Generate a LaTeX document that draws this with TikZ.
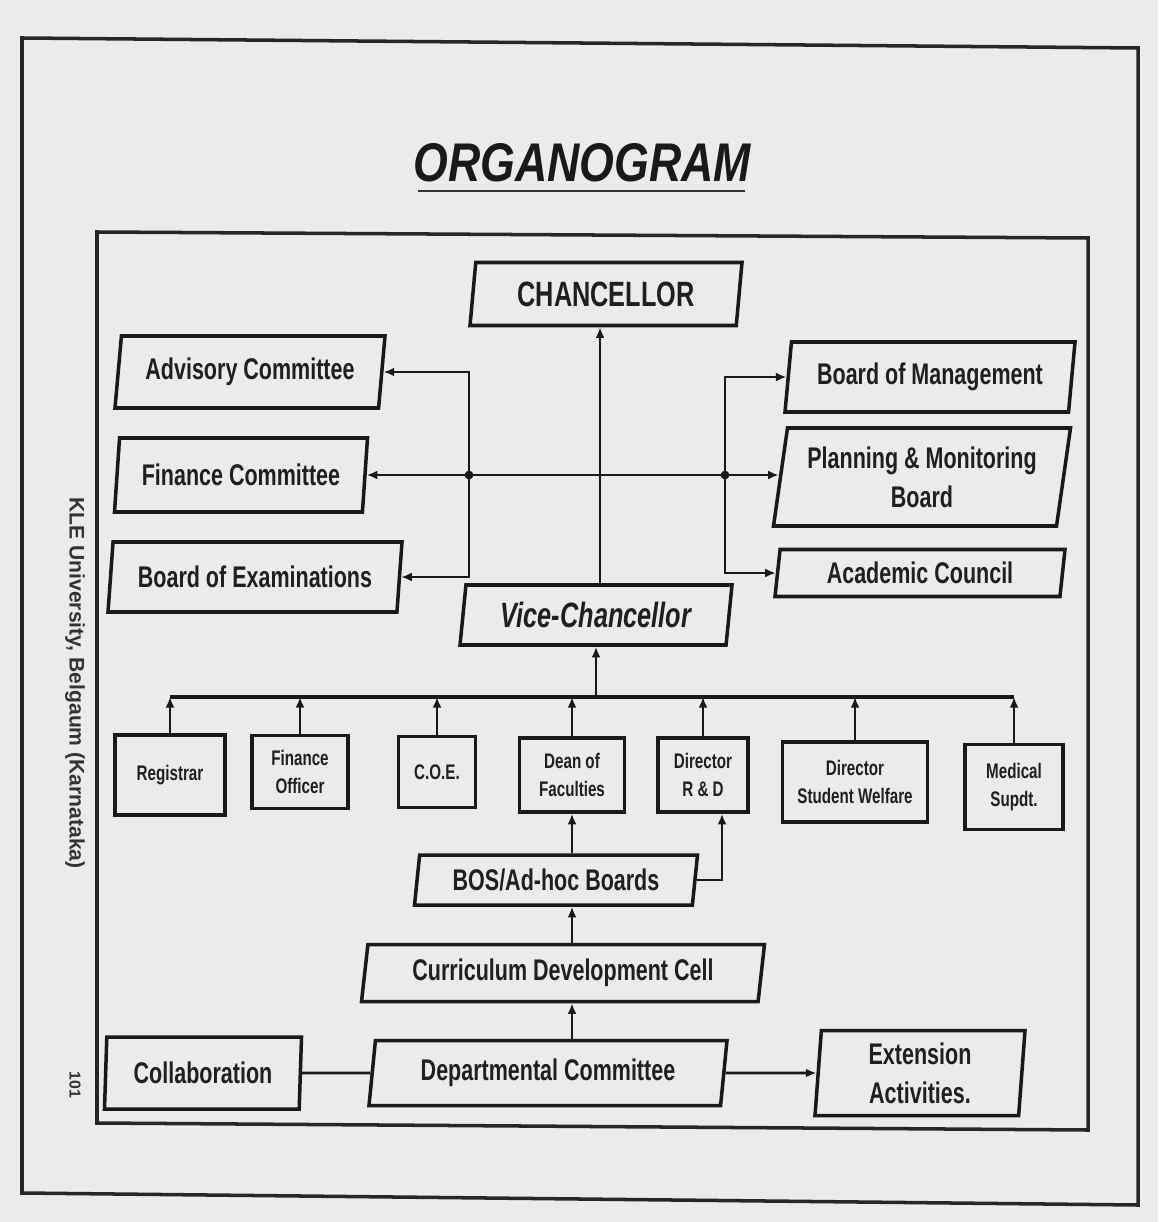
\documentclass[tikz,border=0pt]{standalone}
\usepackage{fontspec}
\setmainfont{Liberation Sans}
\newfontfamily\cf[FakeStretch=0.72]{Liberation Sans}
\newfontfamily\tf[FakeStretch=0.82]{Liberation Sans}
\usetikzlibrary{shapes.geometric,arrows.meta}
\begin{document}
\begin{tikzpicture}[x=0.02cm,y=-0.02cm,
  sz/.style 2 args={minimum width=#1*0.02cm,minimum height=#2*0.02cm},
  box/.style={draw=black!90, line width=2pt, trapezium, trapezium left angle=77,
    trapezium right angle=103, trapezium stretches body, inner sep=0pt, align=center,
    text=black!88, font=\cf\bfseries\fontsize{17}{22}\selectfont},
  sbox/.style={draw=black!90, line width=2pt, rectangle, inner sep=0pt, align=center,
    text=black!88, font=\cf\bfseries\fontsize{12}{16}\selectfont},
  con/.style={line width=1.3pt, draw=black!90},
  tip/.style={con, -{Latex[length=6pt,width=5pt]}},
  tipb/.style={con, {Latex[length=6pt,width=5pt]}-{Latex[length=6pt,width=5pt]}},
  frame/.style={line width=2pt, draw=black!85}
]
\useasboundingbox (0,0) rectangle (1158,1222);
\fill[black!8] (0,0) rectangle (1158,1222);
\draw[frame] (22,38) -- (1138,48) -- (1138,1205) -- (22,1193) -- cycle;
\draw[frame] (97,232) -- (1088,238) -- (1088,1130) -- (97,1123) -- cycle;

\node[font=\tf\bfseries\itshape\fontsize{31}{36}\selectfont, text=black!90] (title) at (582,163) {ORGANOGRAM};
\draw[line width=1pt, black!80] (418,191) -- (745,191);

\node[rotate=-90, text=black!80, font=\bfseries\fontsize{12}{14}\selectfont] (side) at (75,683) {KLE University, Belgaum (Karnataka)};
\node[rotate=-90, text=black!80, font=\bfseries\fontsize{9}{11}\selectfont] (pg) at (75,1085) {101};

% top level
\node[box, sz={272}{63}, font=\cf\bfseries\fontsize{20}{24}\selectfont] (chan) at (606,294) {CHANCELLOR};
\node[box, sz={270}{72}] (adv) at (250,372) {Advisory Committee};
\node[box, sz={253}{74}] (fin) at (241,475) {Finance Committee};
\node[box, sz={294}{70}] (exam) at (255,577) {Board of Examinations};
\node[box, sz={290}{70}] (bom) at (930,377) {Board of Management};
\node[box, sz={297}{98}] (plan) at (922,477) {Planning \& Monitoring\\Board};
\node[box, sz={290}{47}] (acad) at (920,573) {Academic Council};
\node[box, sz={272}{60}, font=\cf\bfseries\itshape\fontsize{20}{24}\selectfont] (vc) at (596,615) {Vice-Chancellor};

% second row
\node[sbox, sz={110}{80}] (reg) at (170,775) {Registrar};
\node[sbox, sz={96}{73}] (fo) at (300,772) {Finance\\Officer};
\node[sbox, sz={77}{71}] (coe) at (437,772) {C.O.E.};
\node[sbox, sz={105}{74}] (dean) at (572,775) {Dean of\\Faculties};
\node[sbox, sz={90}{74}] (rd) at (703,775) {Director\\R \& D};
\node[sbox, sz={145}{80}] (sw) at (855,782) {Director\\Student Welfare};
\node[sbox, sz={98}{85}] (med) at (1014,787) {Medical\\Supdt.};

% lower part
\node[box, sz={283}{50}] (bos) at (556,880) {BOS/Ad-hoc Boards};
\node[box, sz={403}{57}] (cdc) at (563,973) {Curriculum Development Cell};
\node[box, sz={358}{65}] (dept) at (548,1073) {Departmental Committee};
\node[box, trapezium left angle=84, trapezium right angle=96, sz={197}{72}] (collab) at (203,1073) {Collaboration};
\node[box, trapezium left angle=84, trapezium right angle=96, sz={210}{85}] (ext) at (920,1073) {Extension\\Activities.};

% connectors
\coordinate (cx) at (600,0);
\draw[tip] (vc.north -| cx) -- (chan.south -| cx);
\coordinate (lb) at (469,470);
\coordinate (rb) at (725,470);
\draw[tipb] (adv.east) -| (lb) |- (exam.east);
\draw[tipb] (bom.west) -| (rb) |- (acad.west);
\draw[tipb, line width=1.6pt] (fin.east) -- (fin.east -| plan.west);
\fill[black!90] (fin.east -| lb) circle[radius=2.5pt];
\fill[black!90] (fin.east -| rb) circle[radius=2.5pt];

\coordinate (bus) at (0,697);
\draw[con, line width=2pt] (reg.north |- bus) -- (med.north |- bus);
\draw[tip] (vc.south |- bus) -- (vc.south);
\foreach \n in {reg,fo,coe,dean,rd,sw,med}
  \draw[tip] (\n.north) -- (\n.north |- bus);

\draw[tip] (dean.south |- bos.north) -- (dean.south);
\draw[tip] (bos.east) -| ([xshift=0.38cm]rd.south);
\draw[tip] (dean.south |- cdc.north) -- (dean.south |- bos.south);
\draw[tip] (dean.south |- dept.north) -- (dean.south |- cdc.south);
\draw[con, line width=1.6pt] (collab.east) -- (dept.west);
\draw[tip, line width=1.6pt] (dept.east) -- (ext.west);
\end{tikzpicture}
\end{document}
